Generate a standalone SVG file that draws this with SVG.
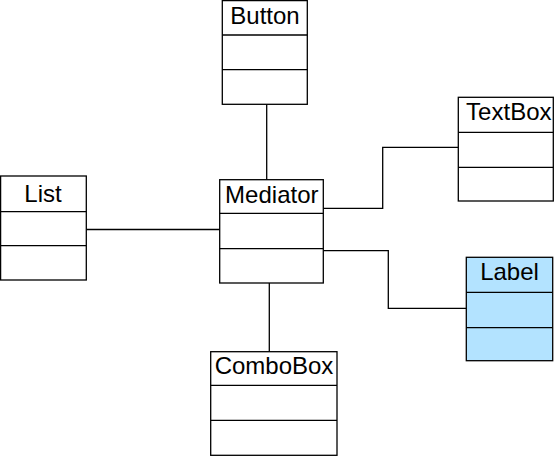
<svg xmlns="http://www.w3.org/2000/svg" width="557" height="458" viewBox="0 0 557 458">
<style>
.box{fill:#ffffff;stroke:#000000;stroke-width:1.3}
.hl{fill:#b3e3ff}
.sep{stroke:#000000;stroke-width:1.3;fill:none}
.conn{stroke:#000000;stroke-width:1.3;fill:none}
text{font-family:"Liberation Sans",Arial,sans-serif;font-size:24px;fill:#000000;text-anchor:middle}
</style>
<rect width="557" height="458" fill="#ffffff"/>
<g id="connectors">
<line class="conn" x1="266.7" y1="104.3" x2="266.7" y2="179.7"/>
<line class="conn" x1="86.3" y1="229.5" x2="219.7" y2="229.5"/>
<polyline class="conn" points="323.3,208.3 382.7,208.3 382.7,147.3 458.3,147.3"/>
<polyline class="conn" points="323.3,250.7 388.3,250.7 388.3,308.3 466.3,308.3"/>
<line class="conn" x1="269.3" y1="283" x2="269.3" y2="351.7"/>
</g>
<g id="button">
<rect class="box" x="222.3" y="0.6" width="85" height="103.7"/>
<line class="sep" x1="222.3" y1="35" x2="307.3" y2="35"/>
<line class="sep" x1="222.3" y1="69.7" x2="307.3" y2="69.7"/>
<text x="265" y="23.5">Button</text>
</g>
<g id="mediator">
<rect class="box" x="219.7" y="179.7" width="103.6" height="103.3"/>
<line class="sep" x1="219.7" y1="213.3" x2="323.3" y2="213.3"/>
<line class="sep" x1="219.7" y1="248.7" x2="323.3" y2="248.7"/>
<text x="271.8" y="202.5">Mediator</text>
</g>
<g id="textbox">
<rect class="box" x="458.3" y="97.3" width="95" height="103.7"/>
<line class="sep" x1="458.3" y1="132.3" x2="553.3" y2="132.3"/>
<line class="sep" x1="458.3" y1="167.3" x2="553.3" y2="167.3"/>
<text x="508.8" y="119.5">TextBox</text>
</g>
<g id="label">
<rect class="box hl" x="466.3" y="257.3" width="86.4" height="103.4"/>
<line class="sep" x1="466.3" y1="292.3" x2="552.7" y2="292.3"/>
<line class="sep" x1="466.3" y1="327.7" x2="552.7" y2="327.7"/>
<text x="509.5" y="279.5">Label</text>
</g>
<g id="list">
<rect class="box" x="0.6" y="176" width="85.7" height="104"/>
<line class="sep" x1="0.6" y1="211.7" x2="86.3" y2="211.7"/>
<line class="sep" x1="0.6" y1="245.7" x2="86.3" y2="245.7"/>
<text x="43" y="201.7">List</text>
</g>
<g id="combobox">
<rect class="box" x="210.7" y="351.7" width="126.3" height="103.6"/>
<line class="sep" x1="210.7" y1="385.3" x2="337" y2="385.3"/>
<line class="sep" x1="210.7" y1="420.3" x2="337" y2="420.3"/>
<text x="274" y="373.8">ComboBox</text>
</g>
</svg>
